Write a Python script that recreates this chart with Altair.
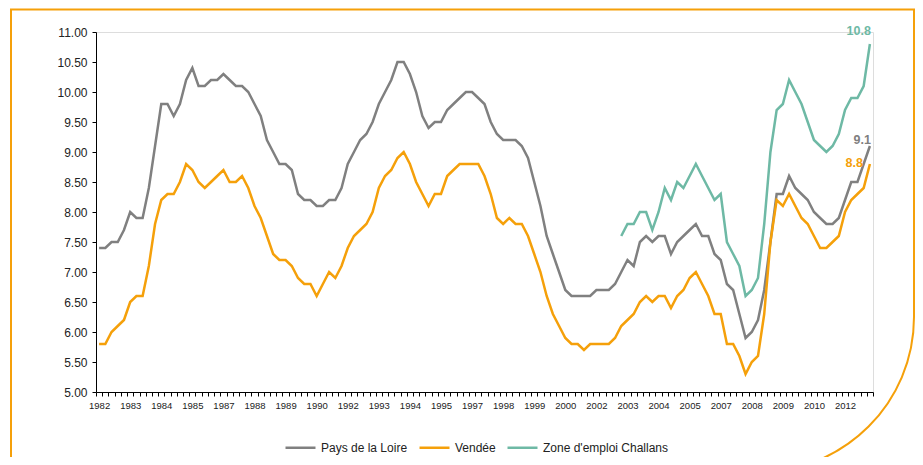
import json
import altair as alt
import pandas as pd

# ---- categories (quarters 1982T1 .. 2013T1) ----
quarters = [f"{y}T{q}" for y in range(1982, 2014) for q in range(1, 5)][:125]
year_labels = ["1982", "1983", "1984", "1985", "1987", "1988", "1989", "1990",
               "1992", "1993", "1994", "1995", "1997", "1998", "1999", "2000",
               "2002", "2003", "2004", "2005", "2007", "2008", "2009", "2010", "2012"]
y_ticks = [5.0, 5.5, 6.0, 6.5, 7.0, 7.5, 8.0, 8.5, 9.0, 9.5, 10.0, 10.5, 11.0]

# ---- series values (unemployment rate, %) ----
pays_de_la_loire = [
    7.4, 7.4, 7.5, 7.5, 7.7, 8.0, 7.9, 7.9, 8.4, 9.1,
    9.8, 9.8, 9.6, 9.8, 10.2, 10.4, 10.1, 10.1, 10.2, 10.2,
    10.3, 10.2, 10.1, 10.1, 10.0, 9.8, 9.6, 9.2, 9.0, 8.8,
    8.8, 8.7, 8.3, 8.2, 8.2, 8.1, 8.1, 8.2, 8.2, 8.4,
    8.8, 9.0, 9.2, 9.3, 9.5, 9.8, 10.0, 10.2, 10.5, 10.5,
    10.3, 10.0, 9.6, 9.4, 9.5, 9.5, 9.7, 9.8, 9.9, 10.0,
    10.0, 9.9, 9.8, 9.5, 9.3, 9.2, 9.2, 9.2, 9.1, 8.9,
    8.5, 8.1, 7.6, 7.3, 7.0, 6.7, 6.6, 6.6, 6.6, 6.6,
    6.7, 6.7, 6.7, 6.8, 7.0, 7.2, 7.1, 7.5, 7.6, 7.5,
    7.6, 7.6, 7.3, 7.5, 7.6, 7.7, 7.8, 7.6, 7.6, 7.3,
    7.2, 6.8, 6.7, 6.3, 5.9, 6.0, 6.2, 6.7, 7.5, 8.3,
    8.3, 8.6, 8.4, 8.3, 8.2, 8.0, 7.9, 7.8, 7.8, 7.9,
    8.2, 8.5, 8.5, 8.8, 9.1,
]
vendee = [
    5.8, 5.8, 6.0, 6.1, 6.2, 6.5, 6.6, 6.6, 7.1, 7.8,
    8.2, 8.3, 8.3, 8.5, 8.8, 8.7, 8.5, 8.4, 8.5, 8.6,
    8.7, 8.5, 8.5, 8.6, 8.4, 8.1, 7.9, 7.6, 7.3, 7.2,
    7.2, 7.1, 6.9, 6.8, 6.8, 6.6, 6.8, 7.0, 6.9, 7.1,
    7.4, 7.6, 7.7, 7.8, 8.0, 8.4, 8.6, 8.7, 8.9, 9.0,
    8.8, 8.5, 8.3, 8.1, 8.3, 8.3, 8.6, 8.7, 8.8, 8.8,
    8.8, 8.8, 8.6, 8.3, 7.9, 7.8, 7.9, 7.8, 7.8, 7.6,
    7.3, 7.0, 6.6, 6.3, 6.1, 5.9, 5.8, 5.8, 5.7, 5.8,
    5.8, 5.8, 5.8, 5.9, 6.1, 6.2, 6.3, 6.5, 6.6, 6.5,
    6.6, 6.6, 6.4, 6.6, 6.7, 6.9, 7.0, 6.8, 6.6, 6.3,
    6.3, 5.8, 5.8, 5.6, 5.3, 5.5, 5.6, 6.3, 7.5, 8.2,
    8.1, 8.3, 8.1, 7.9, 7.8, 7.6, 7.4, 7.4, 7.5, 7.6,
    8.0, 8.2, 8.3, 8.4, 8.8,
]
challans_first_quarter = "2003T1"
challans = [
    7.6, 7.8, 7.8, 8.0, 8.0, 7.7, 8.0, 8.4, 8.2, 8.5,
    8.4, 8.6, 8.8, 8.6, 8.4, 8.2, 8.3, 7.5, 7.3, 7.1,
    6.6, 6.7, 6.9, 7.8, 9.0, 9.7, 9.8, 10.2, 10.0, 9.8,
    9.5, 9.2, 9.1, 9.0, 9.1, 9.3, 9.7, 9.9, 9.9, 10.1,
    10.8,
]

series_names = ["Pays de la Loire", "Vendée", "Zone d'emploi Challans"]
series_colors = ["#808080", "#F5A00A", "#6EB9A5"]
frame_color = "#F5A00A"

rows = []
for name, vals, start in [
    (series_names[0], pays_de_la_loire, 0),
    (series_names[1], vendee, 0),
    (series_names[2], challans, quarters.index(challans_first_quarter)),
]:
    for k, v in enumerate(vals):
        q = start + k
        rows.append({"serie": name, "trimestre": quarters[q], "q": q,
                     "pos": q + 0.5, "taux": v})
df = pd.DataFrame(rows)
last_q = len(quarters) - 1

# category boundaries (one tick per quarter)
bounds = pd.DataFrame({"b": list(range(len(quarters) + 1))})

FONT = "Liberation Sans"

x_scale = alt.Scale(domain=[0, len(quarters)], nice=False, zero=False)
y_scale = alt.Scale(domain=[5, 11], nice=False, zero=False)

label_positions = [5 * k + 0.5 for k in range(len(year_labels))]
label_expr = f"{json.dumps(year_labels)}[round((datum.value - 0.5) / 5)]"

x_label_axis = alt.Axis(values=label_positions, labelExpr=label_expr,
                        ticks=False, domain=True, domainColor="black",
                        labelOverlap=False, labelFlush=False, labelBound=False,
                        grid=False, title=None, orient="bottom",
                        labelFont=FONT, labelFontSize=9.5,
                        labelColor="#222222", labelPadding=8)
x_tick_axis = alt.Axis(values=list(range(len(quarters) + 1)), labels=False,
                       ticks=True, tickSize=4, tickColor="black",
                       domain=False, grid=False, title=None, orient="bottom")
y_axis = alt.Axis(values=y_ticks, format=".2f", tickSize=4, tickColor="black",
                  domainColor="black", grid=False, title=None,
                  labelFont=FONT, labelFontSize=12, labelColor="#222222",
                  labelPadding=5)

color = alt.Color("serie:N",
                  scale=alt.Scale(domain=series_names, range=series_colors),
                  legend=alt.Legend(title=None, orient="none", legendX=188,
                                    legendY=399, direction="horizontal",
                                    symbolType="stroke", symbolSize=900,
                                    symbolStrokeWidth=2.5, labelFont=FONT,
                                    labelFontSize=12, labelColor="#222222",
                                    labelOffset=4, columnPadding=6))

ticks_layer = alt.Chart(bounds).mark_point(opacity=0).encode(
    x=alt.X("b:Q", scale=x_scale, axis=x_tick_axis),
)

lines = alt.Chart(df).mark_line(strokeWidth=2.5).encode(
    x=alt.X("pos:Q", scale=x_scale, axis=x_label_axis),
    y=alt.Y("taux:Q", scale=y_scale, axis=y_axis),
    color=color,
    detail="serie:N",
)

def end_label(name, col, dx, dy):
    return alt.Chart(df).transform_filter(
        (alt.datum.serie == name) & (alt.datum.q == last_q)
    ).mark_text(font=FONT, fontSize=12.5, fontWeight="bold", align="right",
                baseline="middle", dx=dx, dy=dy, color=col).encode(
        x=alt.X("pos:Q", scale=x_scale, axis=x_label_axis),
        y=alt.Y("taux:Q", scale=y_scale, axis=y_axis),
        text=alt.Text("taux:Q", format=".1f"),
    )

lab_teal = end_label(series_names[2], series_colors[2], 1, -13)
lab_gray = end_label(series_names[0], series_colors[0], 1, -6)
lab_orange = end_label(series_names[1], series_colors[1], -7, -1)

frame = alt.Chart(pd.DataFrame({"a": [0]})).mark_rect(
    filled=False, stroke=frame_color, strokeWidth=2,
    cornerRadiusBottomRight=155,
).encode(x=alt.value(-85), x2=alt.value(818), y=alt.value(-22.5),
         y2=alt.value(440))

data_layers = alt.layer(lines, lab_teal, lab_gray, lab_orange)

chart = alt.layer(frame, ticks_layer, data_layers).resolve_scale(
    x="shared"
).resolve_axis(x="independent").properties(
    width=777, height=360,
    autosize=alt.AutoSizeParams(type="none"),
    padding={"left": 88, "top": 24, "right": 42, "bottom": 65},
).configure_view(stroke="transparent", strokeWidth=0).configure(font=FONT)

chart.save("out.html", embed_options={"renderer": "svg", "actions": False})
